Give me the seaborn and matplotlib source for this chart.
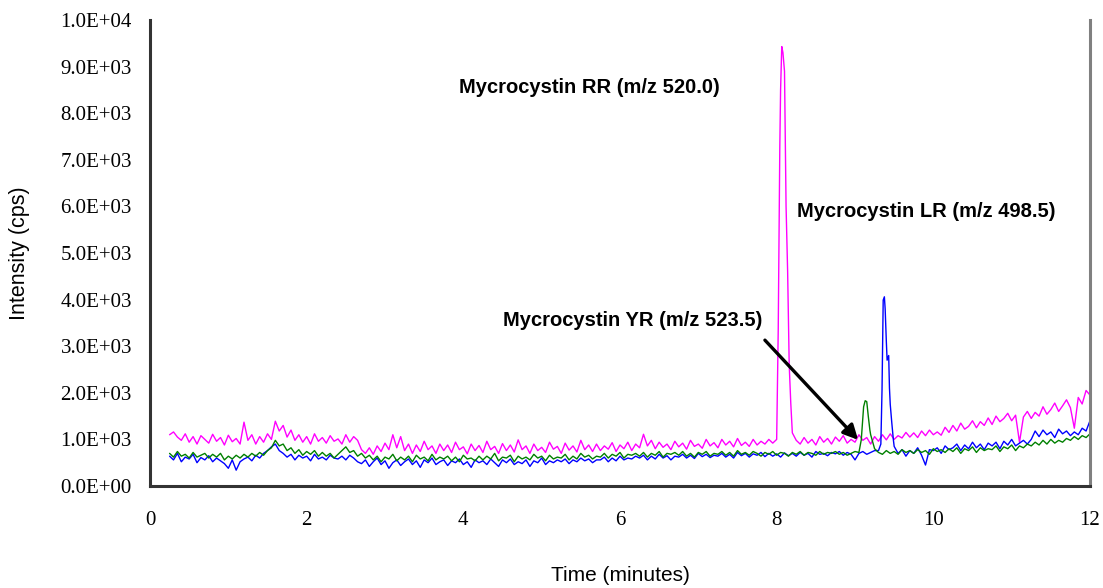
"""
LC-MS chromatogram: Mycrocystin RR / LR / YR (extracted ion traces)
"""

import matplotlib
matplotlib.use("Agg")
import matplotlib.pyplot as plt
import numpy as np
import pandas as pd
import seaborn as sns

# ------------------------------------------------------------------
# Data
# regular sampling grid: 0.25 .. 12.0 min, step 0.05 min (236 points)
# ------------------------------------------------------------------
t_start, t_step = 0.25, 0.05

rr_520 = [  # magenta
    1100, 1160, 1050, 980, 1120, 940, 1060, 900, 1080, 1000,
    920, 1110, 960, 1040, 880, 1090, 950, 1020, 900, 1370,
    980, 1100, 900, 1060, 940, 1120, 1000, 1390, 1180, 1300,
    1050, 1200, 980, 1100, 940, 1060, 900, 1120, 960, 1040,
    920, 1080, 960, 1010, 900, 1100, 940, 1060, 980, 780,
    700, 820, 680, 860, 740, 920, 780, 1100, 820, 1060,
    760, 900, 700, 880, 740, 960, 780, 860, 700, 900,
    760, 880, 720, 940, 780, 840, 690, 900, 760, 870,
    720, 960, 780, 850, 700, 910, 760, 880, 730, 990,
    780, 860, 700, 900, 760, 830, 720, 940, 790, 850,
    700, 920, 770, 860, 730, 980, 780, 880, 740, 900,
    760, 860, 790, 930, 740, 880, 800, 940, 760, 900,
    820, 1110, 860, 980, 800, 940, 830, 900, 780, 960,
    840, 920, 790, 980, 850, 900, 810, 1000, 860, 930,
    820, 1000, 880, 960, 840, 1020, 870, 940, 850, 1000,
    880, 960, 900, 1000, 920, 1000, 8500, 8900, 3600, 1140,
    980, 900, 1040, 920, 1000, 880, 1060, 940, 1020, 900,
    1050, 960, 1080, 920, 1000, 940, 1100, 980, 1040, 900,
    1060, 960, 1100, 990, 1120, 1000, 1080, 1030, 1150, 1050,
    1140, 1040, 1180, 1080, 1200, 1100, 1160, 1090, 1260, 1150,
    1300, 1180, 1350, 1220, 1280, 1400, 1250, 1380, 1300, 1460,
    1320, 1500, 1380, 1450, 1560, 1400, 1520, 940, 1480, 1600,
    1450, 1580, 1500, 1700, 1540, 1640, 1780, 1600, 1720, 1850,
    1680, 1240, 1900, 1760, 2050, 1950,
]

lr_498 = [  # blue
    640, 560, 700, 520, 620, 580, 680, 500, 610, 560,
    650, 520, 600, 540, 480, 380, 560, 340, 520, 580,
    620, 540, 660, 600, 700, 760, 840, 900, 760, 700,
    620, 680, 560, 660, 600, 640, 540, 680, 580, 620,
    560, 660, 600, 580, 640, 560, 660, 600, 520, 480,
    560, 420, 520, 600, 460, 540, 380, 500, 560, 440,
    520, 580, 460, 540, 400, 560, 500, 600, 460, 520,
    560, 440, 540, 500, 580, 460, 520, 400, 560, 500,
    540, 460, 580, 500, 420, 560, 500, 580, 460, 520,
    480, 560, 420, 540, 500, 600, 460, 540, 500, 560,
    520, 580, 480, 560, 520, 600, 540, 580, 500, 560,
    560, 620, 520, 600, 540, 640, 560, 600, 580, 640,
    600, 660, 560, 640, 580, 680, 600, 650, 560, 640,
    620, 680, 600, 660, 590, 700, 630, 680, 610, 660,
    640, 700, 620, 680, 600, 720, 650, 700, 620, 690,
    660, 720, 630, 700, 640, 690, 620, 710, 650, 700,
    640, 720, 660, 700, 620, 740, 680, 700, 650, 720,
    690, 740, 660, 720, 680, 560, 700, 740, 680, 720,
    760, 760, 2700, 3100, 1750, 850, 700, 780, 640, 760,
    700, 820, 660, 450, 780, 760, 820, 700, 860, 780,
    820, 900, 760, 880, 800, 940, 820, 900, 780, 920,
    860, 940, 800, 960, 880, 1000, 860, 920, 980, 900,
    1000, 1180, 1060, 1200, 1100, 1160, 1040, 1220, 1120, 1180,
    1080, 1160, 1100, 1240, 1180, 1400,
]

yr_523 = [  # green
    700, 620, 740, 640, 680, 600, 720, 620, 660, 700,
    600, 680, 620, 700, 560, 640, 580, 660, 600, 680,
    620, 700, 640, 720, 660, 760, 820, 980, 860, 900,
    760, 820, 700, 780, 660, 740, 680, 760, 640, 720,
    640, 700, 600, 680, 760, 840, 720, 760, 640, 700,
    600, 660, 560, 640, 520, 620, 580, 680, 540, 620,
    560, 640, 520, 660, 580, 620, 540, 680, 560, 620,
    580, 640, 540, 620, 520, 660, 580, 600, 540, 640,
    560, 640, 580, 700, 540, 620, 600, 660, 520, 640,
    580, 620, 560, 680, 600, 640, 540, 660, 580, 620,
    600, 680, 560, 640, 580, 700, 620, 660, 580, 640,
    620, 700, 600, 680, 640, 720, 600, 680, 660, 700,
    640, 720, 620, 700, 660, 740, 620, 700, 680, 720,
    660, 740, 640, 700, 620, 720, 680, 740, 640, 700,
    680, 740, 660, 720, 640, 760, 680, 720, 660, 740,
    700, 640, 720, 680, 740, 660, 720, 700, 640, 720,
    680, 740, 660, 720, 700, 660, 740, 680, 720, 700,
    740, 680, 720, 660, 700, 740, 720, 1450, 1810, 1100,
    800, 720, 680, 760, 700, 740, 680, 780, 720, 760,
    700, 780, 720, 760, 680, 800, 740, 780, 720, 800,
    740, 820, 700, 800, 760, 840, 720, 820, 760, 800,
    780, 860, 740, 840, 800, 880, 760, 860, 820, 900,
    860, 940, 880, 980, 900, 1000, 920, 980, 940, 1020,
    980, 1060, 1000, 1080, 1040, 1120,
]

# extra points between grid samples to resolve the peak shapes
rr_peak_t = [8.02, 8.04, 8.065, 8.08, 8.12, 8.14, 8.16, 8.18]
rr_peak_v = [3350, 7270, 9430, 9300, 6000, 4600, 2600, 1780]

lr_peak_t = [9.33, 9.345, 9.36, 9.375, 9.385, 9.39, 9.41, 9.43, 9.44, 9.47, 9.49]
lr_peak_v = [900, 2060, 3990, 4060, 3800, 3560, 2700, 2800, 2100, 1350, 990]

yr_peak_t = [9.08, 9.11, 9.13, 9.17, 9.19, 9.23]
yr_peak_v = [990, 1700, 1830, 1490, 1200, 920]

series_names = ["RR", "LR", "YR"]
colors = {"RR": "#FF00FF", "LR": "#0000FF", "YR": "#008000"}

labels = {
    "RR": "Mycrocystin RR (m/z 520.0)",
    "LR": "Mycrocystin LR (m/z 498.5)",
    "YR": "Mycrocystin YR (m/z 523.5)",
}

x_ticks = [0, 2, 4, 6, 8, 10, 12]
y_ticks = [0, 1000, 2000, 3000, 4000, 5000, 6000, 7000, 8000, 9000, 10000]
y_tick_labels = ["0.0E+00", "1.0E+03", "2.0E+03", "3.0E+03", "4.0E+03", "5.0E+03",
                 "6.0E+03", "7.0E+03", "8.0E+03", "9.0E+03", "1.0E+04"]

# ------------------------------------------------------------------
# long table for seaborn
# ------------------------------------------------------------------
grid = np.round(t_start + t_step * np.arange(len(rr_520)), 3)

frames = []
for name, base, pk_t, pk_v in [
    ("RR", rr_520, rr_peak_t, rr_peak_v),
    ("LR", lr_498, lr_peak_t, lr_peak_v),
    ("YR", yr_523, yr_peak_t, yr_peak_v),
]:
    part = pd.DataFrame({
        "time": np.concatenate([grid, pk_t]),
        "intensity": np.concatenate([base, pk_v]),
        "trace": name,
    })
    frames.append(part.sort_values("time"))
df = pd.concat(frames, ignore_index=True)

# ------------------------------------------------------------------
# plot
# ------------------------------------------------------------------
sns.set_style("white")
plt.rcParams["font.family"] = ["Liberation Sans", "DejaVu Sans"]
plt.rcParams["text.color"] = "black"
plt.rcParams["axes.labelcolor"] = "black"
plt.rcParams["xtick.color"] = "black"
plt.rcParams["ytick.color"] = "black"

fig = plt.figure(figsize=(11.03, 5.88), dpi=100)
ax = fig.add_axes([150 / 1103, 102 / 588, 940 / 1103, 466 / 588])

sns.lineplot(
    data=df, x="time", y="intensity", hue="trace", hue_order=series_names,
    palette=colors, estimator=None, sort=True, lw=1.0, legend=False, ax=ax,
)

ax.set_xlim(0, 12)
ax.set_ylim(0, 10000)
ax.set_xticks(x_ticks)
ax.set_xticklabels([str(v) for v in x_ticks])
ax.set_yticks(y_ticks)
ax.set_yticklabels(y_tick_labels)

for lab in ax.get_xticklabels() + ax.get_yticklabels():
    lab.set_family("Liberation Serif")
    lab.set_fontsize(15)
    lab.set_color("black")

ax.tick_params(axis="y", direction="in", length=6, width=1.5, color="#333333", pad=13)
ax.tick_params(axis="x", length=0, pad=18)

ax.set_xlabel("Time (minutes)", fontsize=15, labelpad=26, color="black")
ax.set_ylabel("Intensity (cps)", fontsize=15.5, labelpad=22, color="black")

for side in ["left", "bottom"]:
    ax.spines[side].set_color("#333333")
    ax.spines[side].set_linewidth(2.2)
ax.spines["right"].set_color("#808080")
ax.spines["right"].set_linewidth(2.2)
ax.spines["top"].set_visible(False)

# peak annotations
for key, tx, ty in [("RR", 3.94, 8560), ("LR", 8.26, 5900), ("YR", 4.51, 3560)]:
    ax.text(tx, ty, labels[key], fontsize=14.5, fontweight="bold",
            ha="left", va="center", color="black")
ax.annotate(
    "", xy=(9.04, 990), xytext=(7.85, 3130),
    arrowprops=dict(arrowstyle="-|>", lw=2.4, color="black", mutation_scale=22,
                    shrinkA=0, shrinkB=0),
)

plt.savefig("out.png", dpi=100)
plt.close()
